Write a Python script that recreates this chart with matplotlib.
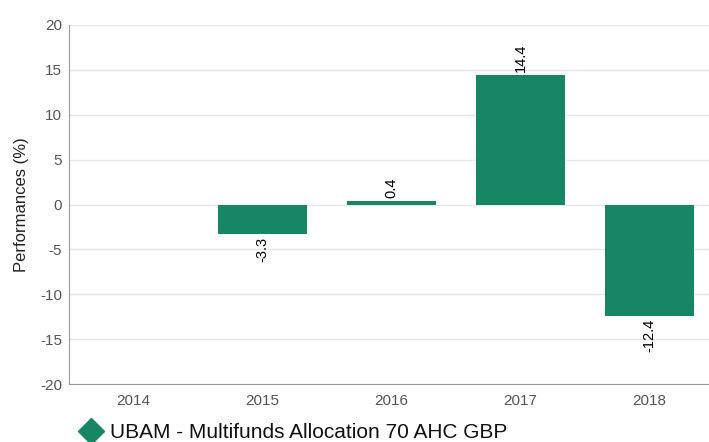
import numpy as np
import matplotlib.pyplot as plt
from matplotlib.lines import Line2D

plt.rcParams['font.family'] = ['Liberation Sans', 'DejaVu Sans']
plt.rcParams['axes.unicode_minus'] = False

years = ['2014', '2015', '2016', '2017', '2018']
perf = [np.nan, -3.3, 0.4, 14.4, -12.4]
series_name = 'UBAM - Multifunds Allocation 70 AHC GBP'
green = '#168665'

fig = plt.figure(figsize=(7.09, 4.42), dpi=100)
ax = fig.add_axes([69/709, 1-384/442, 1-69/709, (384-25)/442])

x = np.arange(len(years))
ax.bar(x, perf, width=0.69, color=green, zorder=3)

for xi, v in zip(x, perf):
    if np.isnan(v):
        continue
    if v >= 0:
        ax.annotate(f'{v:.1f}', (xi, v), xytext=(0, 2), textcoords='offset points',
                    rotation=90, ha='center', va='bottom', fontsize=10.5, color='black')
    else:
        ax.annotate(f'{v:.1f}', (xi, v), xytext=(0, -2), textcoords='offset points',
                    rotation=90, ha='center', va='top', fontsize=10.5, color='black')

ax.set_xlim(-0.5, 4.46)
ax.set_ylim(-20, 20)
ax.set_yticks(np.arange(-20, 21, 5))
ax.set_xticks(x)
ax.set_xticklabels(years)
ax.grid(axis='y', color='#e6e6e6', linewidth=1, zorder=0)
ax.tick_params(length=0, labelsize=11, colors='#555555', pad=5)
ax.tick_params(axis='x', pad=7)
for s in ['top', 'right']:
    ax.spines[s].set_visible(False)
for s in ['left', 'bottom']:
    ax.spines[s].set_color('#999999')
ax.set_ylabel('Performances (%)', fontsize=12, color='#222222', labelpad=8)

handle = Line2D([], [], marker='D', color='none', markerfacecolor=green,
                markeredgecolor=green, markersize=13)
fig.legend([handle], [series_name], loc='center left', bbox_to_anchor=(70/709, 1-433/442),
           frameon=False, fontsize=15, handletextpad=0.3, borderaxespad=0,
           handlelength=1.2, labelcolor='#111111')

fig.savefig('out.png', dpi=100)
